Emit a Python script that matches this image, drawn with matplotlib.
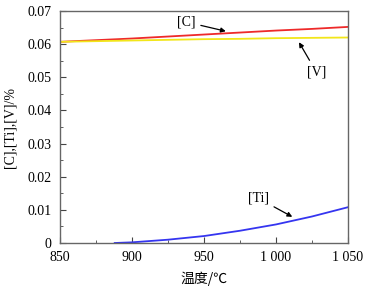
import numpy as np
import matplotlib.pyplot as plt
from matplotlib.ticker import MultipleLocator

plt.rcParams['font.family'] = ['Liberation Serif', 'Noto Sans CJK SC']

# temperature (deg C) and solubility values
temp = [850, 875, 900, 925, 950, 975, 1000, 1025, 1050]
c_vals = [0.0607, 0.0612, 0.0617, 0.0623, 0.0629, 0.0635, 0.0641, 0.0646, 0.0652]
v_vals = [0.0607, 0.0609, 0.0611, 0.0613, 0.0615, 0.0616, 0.0618, 0.0619, 0.0620]
ti_temp = [888, 900, 925, 950, 975, 1000, 1025, 1050]
ti_vals = [0.0, 0.0002, 0.0010, 0.0021, 0.0037, 0.0056, 0.0080, 0.0108]

xticks = [850, 900, 950, 1000, 1050]
xlabels = ['850', '900', '950', '1 000', '1 050']
yticks = [0, 0.01, 0.02, 0.03, 0.04, 0.05, 0.06, 0.07]
ylabels = ['0', '0.01', '0.02', '0.03', '0.04', '0.05', '0.06', '0.07']

fig = plt.figure(figsize=(3.76, 2.91), dpi=100)
ax = fig.add_axes([60/376, 1-243/291, 288/376, 232/291])

ax.plot(temp, c_vals, color='#ee2a2a', lw=1.3)
ax.plot(temp, v_vals, color='#f2e61a', lw=1.3)
ax.plot(ti_temp, ti_vals, color='#3535f0', lw=1.3)

arrow = dict(arrowstyle='-|>', color='black', lw=0.9, mutation_scale=7)
ax.annotate('[C]', xy=(967, 0.0637), xytext=(944, 0.0667), ha='right', va='center',
            fontsize=10, arrowprops=arrow)
ax.annotate('[V]', xy=(1015, 0.0613), xytext=(1028, 0.0516), ha='center', va='center',
            fontsize=10, arrowprops=arrow)
ax.annotate('[Ti]', xy=(1013, 0.0075), xytext=(995, 0.0135), ha='right', va='center',
            fontsize=10, arrowprops=arrow)

ax.set_xlim(850, 1050)
ax.set_ylim(0, 0.07)
ax.set_xticks(xticks)
ax.set_xticklabels(xlabels)
ax.set_yticks(yticks)
ax.set_yticklabels(ylabels)
ax.xaxis.set_minor_locator(MultipleLocator(25))
ax.yaxis.set_minor_locator(MultipleLocator(0.005))
ax.tick_params(which='both', direction='in', labelsize=10, top=False, right=False,
               color='#444444')
ax.tick_params(which='major', length=4, pad=6)
ax.tick_params(which='minor', length=2.5)
for s in ax.spines.values():
    s.set_color('#666666')
    s.set_linewidth(1.0)

ax.set_xlabel('温度/℃', fontsize=10, family=['Noto Sans CJK SC'], labelpad=5)
ax.set_ylabel('[C],[Ti],[V]/%', fontsize=10, labelpad=8)

fig.savefig('out.png', dpi=100)
